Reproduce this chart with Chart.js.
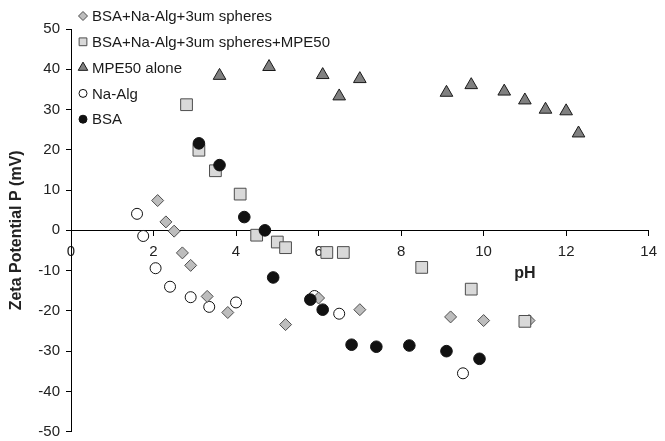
<!DOCTYPE html>
<html>
<head>
<meta charset="utf-8">
<script src="https://cdn.jsdelivr.net/npm/chart.js@4.4.1/dist/chart.umd.min.js"></script>
<style>
  html, body { margin: 0; padding: 0; background: #fff; }
</style>
</head>
<body>
<canvas id="zetaChart" width="665" height="441"></canvas>
<script>
// BSA+Na-Alg+3um spheres (diamonds)
const mixPH   = [2.1, 2.3, 2.5, 2.7, 2.9, 3.3, 3.8, 5.2, 6.0, 7.0, 9.2, 10.0, 11.1];
const mixZeta = [7.4, 2.1, -0.2, -5.6, -8.7, -16.4, -20.4, -23.4, -16.8, -19.7, -21.5, -22.4, -22.4];

// BSA+Na-Alg+3um spheres+MPE50 (squares)
const mixMpePH   = [2.8, 3.1, 3.5, 4.1, 4.5, 5.0, 5.2, 6.2, 6.6, 8.5, 9.7, 11.0];
const mixMpeZeta = [31.2, 19.9, 14.8, 9.0, -1.2, -2.9, -4.3, -5.5, -5.5, -9.2, -14.6, -22.6];

// MPE50 alone (triangles)
const mpePH   = [3.6, 4.8, 6.1, 6.5, 7.0, 9.1, 9.7, 10.5, 11.0, 11.5, 12.0, 12.3];
const mpeZeta = [38.4, 40.6, 38.6, 33.3, 37.6, 34.2, 36.1, 34.5, 32.3, 30.0, 29.6, 24.1];

// Na-Alg (open circles)
const algPH   = [1.6, 1.75, 2.05, 2.4, 2.9, 3.35, 4.0, 5.9, 6.5, 9.5];
const algZeta = [4.1, -1.4, -9.4, -14.0, -16.6, -19.0, -17.9, -16.3, -20.7, -35.5];

// BSA (filled circles)
const bsaPH   = [3.1, 3.6, 4.2, 4.7, 4.9, 5.8, 6.1, 6.8, 7.4, 8.2, 9.1, 9.9];
const bsaZeta = [21.6, 16.2, 3.3, 0.0, -11.7, -17.2, -19.7, -28.4, -28.9, -28.6, -30.0, -31.9];

const toPoints = (xs, ys) => xs.map((x, i) => ({ x: x, y: ys[i] }));

Chart.defaults.font.family = '"Liberation Sans", Arial, sans-serif';
Chart.defaults.color = '#222';

// legend drawn inside the plot, top left, like the original
const insideLegend = {
    id: 'insideLegend',
    afterDraw(chart) {
        const ctx = chart.ctx;
        const sizes = [4.5, 5.5, 5.5, 4, 4];
        ctx.save();
        ctx.font = '15px "Liberation Sans", Arial, sans-serif';
        ctx.textBaseline = 'middle';
        chart.data.datasets.forEach((ds, i) => {
            const y = 16 + i * 25.8;
            ctx.fillStyle = ds.backgroundColor;
            ctx.strokeStyle = ds.borderColor;
            ctx.lineWidth = 1;
            Chart.helpers.drawPoint(ctx, { pointStyle: ds.pointStyle, radius: sizes[i], rotation: 0, borderWidth: 1 }, 83, y);
            ctx.fillStyle = '#1a1a1a';
            ctx.fillText(ds.label, 92, y + 1);
        });
        // x axis title sits right of centre, under the axis
        const xs = chart.scales.x, ys = chart.scales.y;
        ctx.font = 'bold 16px "Liberation Sans", Arial, sans-serif';
        ctx.textAlign = 'center';
        ctx.fillStyle = '#222';
        ctx.fillText('pH', xs.getPixelForValue(11.0), ys.getPixelForValue(0) + 43);
        ctx.restore();
    }
};

const ctx = document.getElementById('zetaChart').getContext('2d');
new Chart(ctx, {
    type: 'scatter',
    data: {
        datasets: [
            {
                label: 'BSA+Na-Alg+3um spheres',
                data: toPoints(mixPH, mixZeta),
                pointStyle: 'rectRot', pointRadius: 6, pointHoverRadius: 6,
                backgroundColor: '#bdbdbd', borderColor: '#4d4d4d', borderWidth: 1,
                order: 3
            },
            {
                label: 'BSA+Na-Alg+3um spheres+MPE50',
                data: toPoints(mixMpePH, mixMpeZeta),
                pointStyle: 'rect', pointRadius: 8.3, pointHoverRadius: 8.3,
                backgroundColor: '#d9d9d9', borderColor: '#4d4d4d', borderWidth: 1,
                order: 1
            },
            {
                label: 'MPE50 alone',
                data: toPoints(mpePH, mpeZeta),
                pointStyle: 'triangle', pointRadius: 7.3, pointHoverRadius: 7.3,
                backgroundColor: '#808080', borderColor: '#1a1a1a', borderWidth: 1,
                order: 2
            },
            {
                label: 'Na-Alg',
                data: toPoints(algPH, algZeta),
                pointStyle: 'circle', pointRadius: 5.5, pointHoverRadius: 5.5,
                backgroundColor: '#ffffff', borderColor: '#111111', borderWidth: 1,
                order: 4
            },
            {
                label: 'BSA',
                data: toPoints(bsaPH, bsaZeta),
                pointStyle: 'circle', pointRadius: 5.8, pointHoverRadius: 5.8,
                backgroundColor: '#111111', borderColor: '#111111', borderWidth: 1,
                order: 0
            }
        ]
    },
    options: {
        responsive: false,
        animation: false,
        layout: { padding: { top: 29, right: 11, bottom: 6, left: 0 } },
        plugins: {
            legend: { display: false },
            tooltip: { enabled: false }
        },
        scales: {
            x: {
                type: 'linear',
                min: 0,
                max: 14,
                position: { y: 0 },
                ticks: { stepSize: 2, padding: 8, font: { size: 15 } },
                grid: { drawOnChartArea: false, tickLength: 5, color: '#000' },
                border: { color: '#000', width: 1 },
                afterFit: s => { s.height = 0; }
            },
            y: {
                min: -50,
                max: 50,
                ticks: { stepSize: 10, padding: 6, font: { size: 15 } },
                grid: { drawOnChartArea: false, tickLength: 5, color: '#000' },
                border: { color: '#000', width: 1 },
                title: {
                    display: true,
                    text: 'Zeta Potential P (mV)',
                    font: { size: 16, weight: 'bold' },
                    padding: { top: 7, bottom: 0 }
                },
                afterFit: s => {
                    s.width = 71;
                    s.paddingTop = 0;
                    s.paddingBottom = 0;
                }
            }
        }
    },
    plugins: [insideLegend]
});
</script>
</body>
</html>
